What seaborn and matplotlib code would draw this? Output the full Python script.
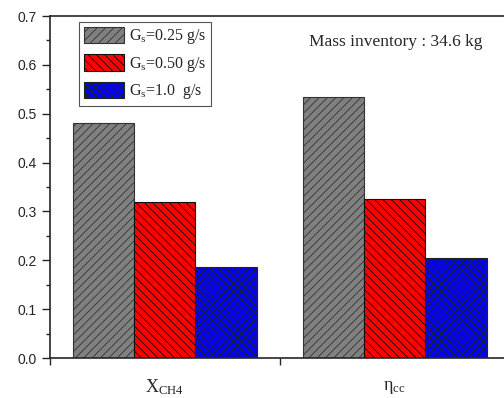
import pandas as pd
import matplotlib.pyplot as plt
import seaborn as sns
from matplotlib.patches import Patch
from matplotlib.ticker import MultipleLocator, FixedLocator

# values
categories = ['X_CH4', 'eta_cc']
cat_labels = [r'$\mathregular{X_{CH4}}$', r'$\mathregular{\eta_{cc}}$']
flow_levels = ['0.25', '0.50', '1.0']
flow_labels = [r'$\mathregular{G_s}$=0.25 g/s', r'$\mathregular{G_s}$=0.50 g/s',
               r'$\mathregular{G_s}$=1.0  g/s']
vals_025 = [0.482, 0.534]
vals_050 = [0.319, 0.326]
vals_100 = [0.186, 0.204]

colors = ['#808080', '#ff0000', '#0000ff']
hatches = ['////', '\\\\\\\\', 'xxxx']
edges = ['#333333', '#111111', '#222222']

rows = []
for lvl, vals in zip(flow_levels, [vals_025, vals_050, vals_100]):
    for c, v in zip(categories, vals):
        rows.append({'cat': c, 'Gs': lvl, 'value': v})
df = pd.DataFrame(rows)

sns.set_style('ticks')
plt.rcParams['hatch.linewidth'] = 0.6
plt.rcParams['mathtext.fontset'] = 'stix'
plt.rcParams['font.family'] = ['Liberation Sans', 'DejaVu Sans']

fig = plt.figure(figsize=(5.04, 3.98), dpi=100)
# axes runs past the right edge, as in the cropped original
ax = fig.add_axes([49.5 / 504, 40 / 398, 460 / 504, 342 / 398])

sns.barplot(data=df, x='cat', y='value', hue='Gs', order=categories,
            hue_order=flow_levels, palette=colors, width=0.8, saturation=1,
            legend=False, ax=ax)

for cont, h, ec in zip(ax.containers, hatches, edges):
    for bar in cont:
        bar.set_hatch(h)
        bar.set_edgecolor(ec)
        bar.set_linewidth(0.8)

ax.set_xlim(-0.5, 1.5)
ax.set_ylim(0, 0.7)
ax.set_xlabel('')
ax.set_ylabel('')
ax.yaxis.set_major_locator(MultipleLocator(0.1))
ax.yaxis.set_minor_locator(MultipleLocator(0.05))
ax.tick_params(axis='y', which='major', length=6, width=1, direction='out',
               labelsize=10, pad=3)
ax.tick_params(axis='y', which='minor', length=3, width=1, direction='out')
ax.xaxis.set_major_locator(FixedLocator([-0.5, 0.5, 1.5]))
ax.set_xticklabels([])
ax.tick_params(axis='x', length=5, width=1, direction='out')
for s in ax.spines.values():
    s.set_linewidth(1.2)

for i, lab in enumerate(cat_labels):
    ax.text(i, -0.06, lab, ha='center', va='center', fontsize=13,
            family='Liberation Serif')

handles = [Patch(facecolor=c, edgecolor=e, hatch=h, linewidth=0.8)
           for c, e, h in zip(colors, edges, hatches)]
leg = ax.legend(handles, flow_labels, loc='upper left',
                bbox_to_anchor=(79 / 504, 1 - 22 / 398),
                bbox_transform=fig.transFigure, borderaxespad=0,
                fancybox=False, framealpha=1, edgecolor='#555555',
                prop={'family': 'Liberation Serif', 'size': 11.5},
                handlelength=2.5, handleheight=1.2, labelspacing=0.5,
                handletextpad=0.3, borderpad=0.3)
leg.get_frame().set_linewidth(0.8)

fig.text(396 / 504, 1 - 42 / 398, 'Mass inventory : 34.6 kg', ha='center',
         va='center', fontsize=12.5, family='Liberation Serif')

fig.savefig('out.png', dpi=100)
